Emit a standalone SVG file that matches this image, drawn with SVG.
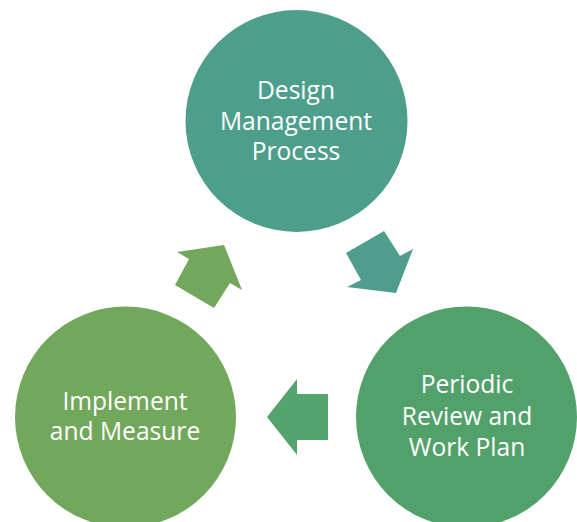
<svg xmlns="http://www.w3.org/2000/svg" width="577" height="522" viewBox="0 0 577 522">
<style>
text{font-family:"Open Sans","Liberation Sans",sans-serif;font-size:24.6px;fill:#ffffff;text-anchor:middle}
</style>
<rect width="577" height="522" fill="#ffffff"/>
<g id="connectors">
<polygon fill="#4F9E8D" points="346,253 384,231 400,256 413,249 396,293 347,287 361,280"/>
<polygon fill="#56A46D" points="267,417 297,379 297,394 328,394 328,440 297,440 297,455"/>
<polygon fill="#72A75D" points="177,252 224,245 242,290 230,283 214,308 175,285 189,259"/>
</g>
<g id="design">
<circle cx="296.5" cy="121" r="111" fill="#4E9E8C"/>
<text x="296" y="99">Design</text>
<text x="296" y="129.5">Management</text>
<text x="296" y="160">Process</text>
</g>
<g id="review">
<circle cx="466.5" cy="417" r="110.5" fill="#52A16B"/>
<text x="467" y="393">Periodic</text>
<text x="467" y="424.5">Review and</text>
<text x="467" y="456">Work Plan</text>
</g>
<g id="implement">
<circle cx="125.5" cy="417" r="110.5" fill="#71A85C"/>
<text x="125" y="410">Implement</text>
<text x="125" y="440">and Measure</text>
</g>
</svg>
